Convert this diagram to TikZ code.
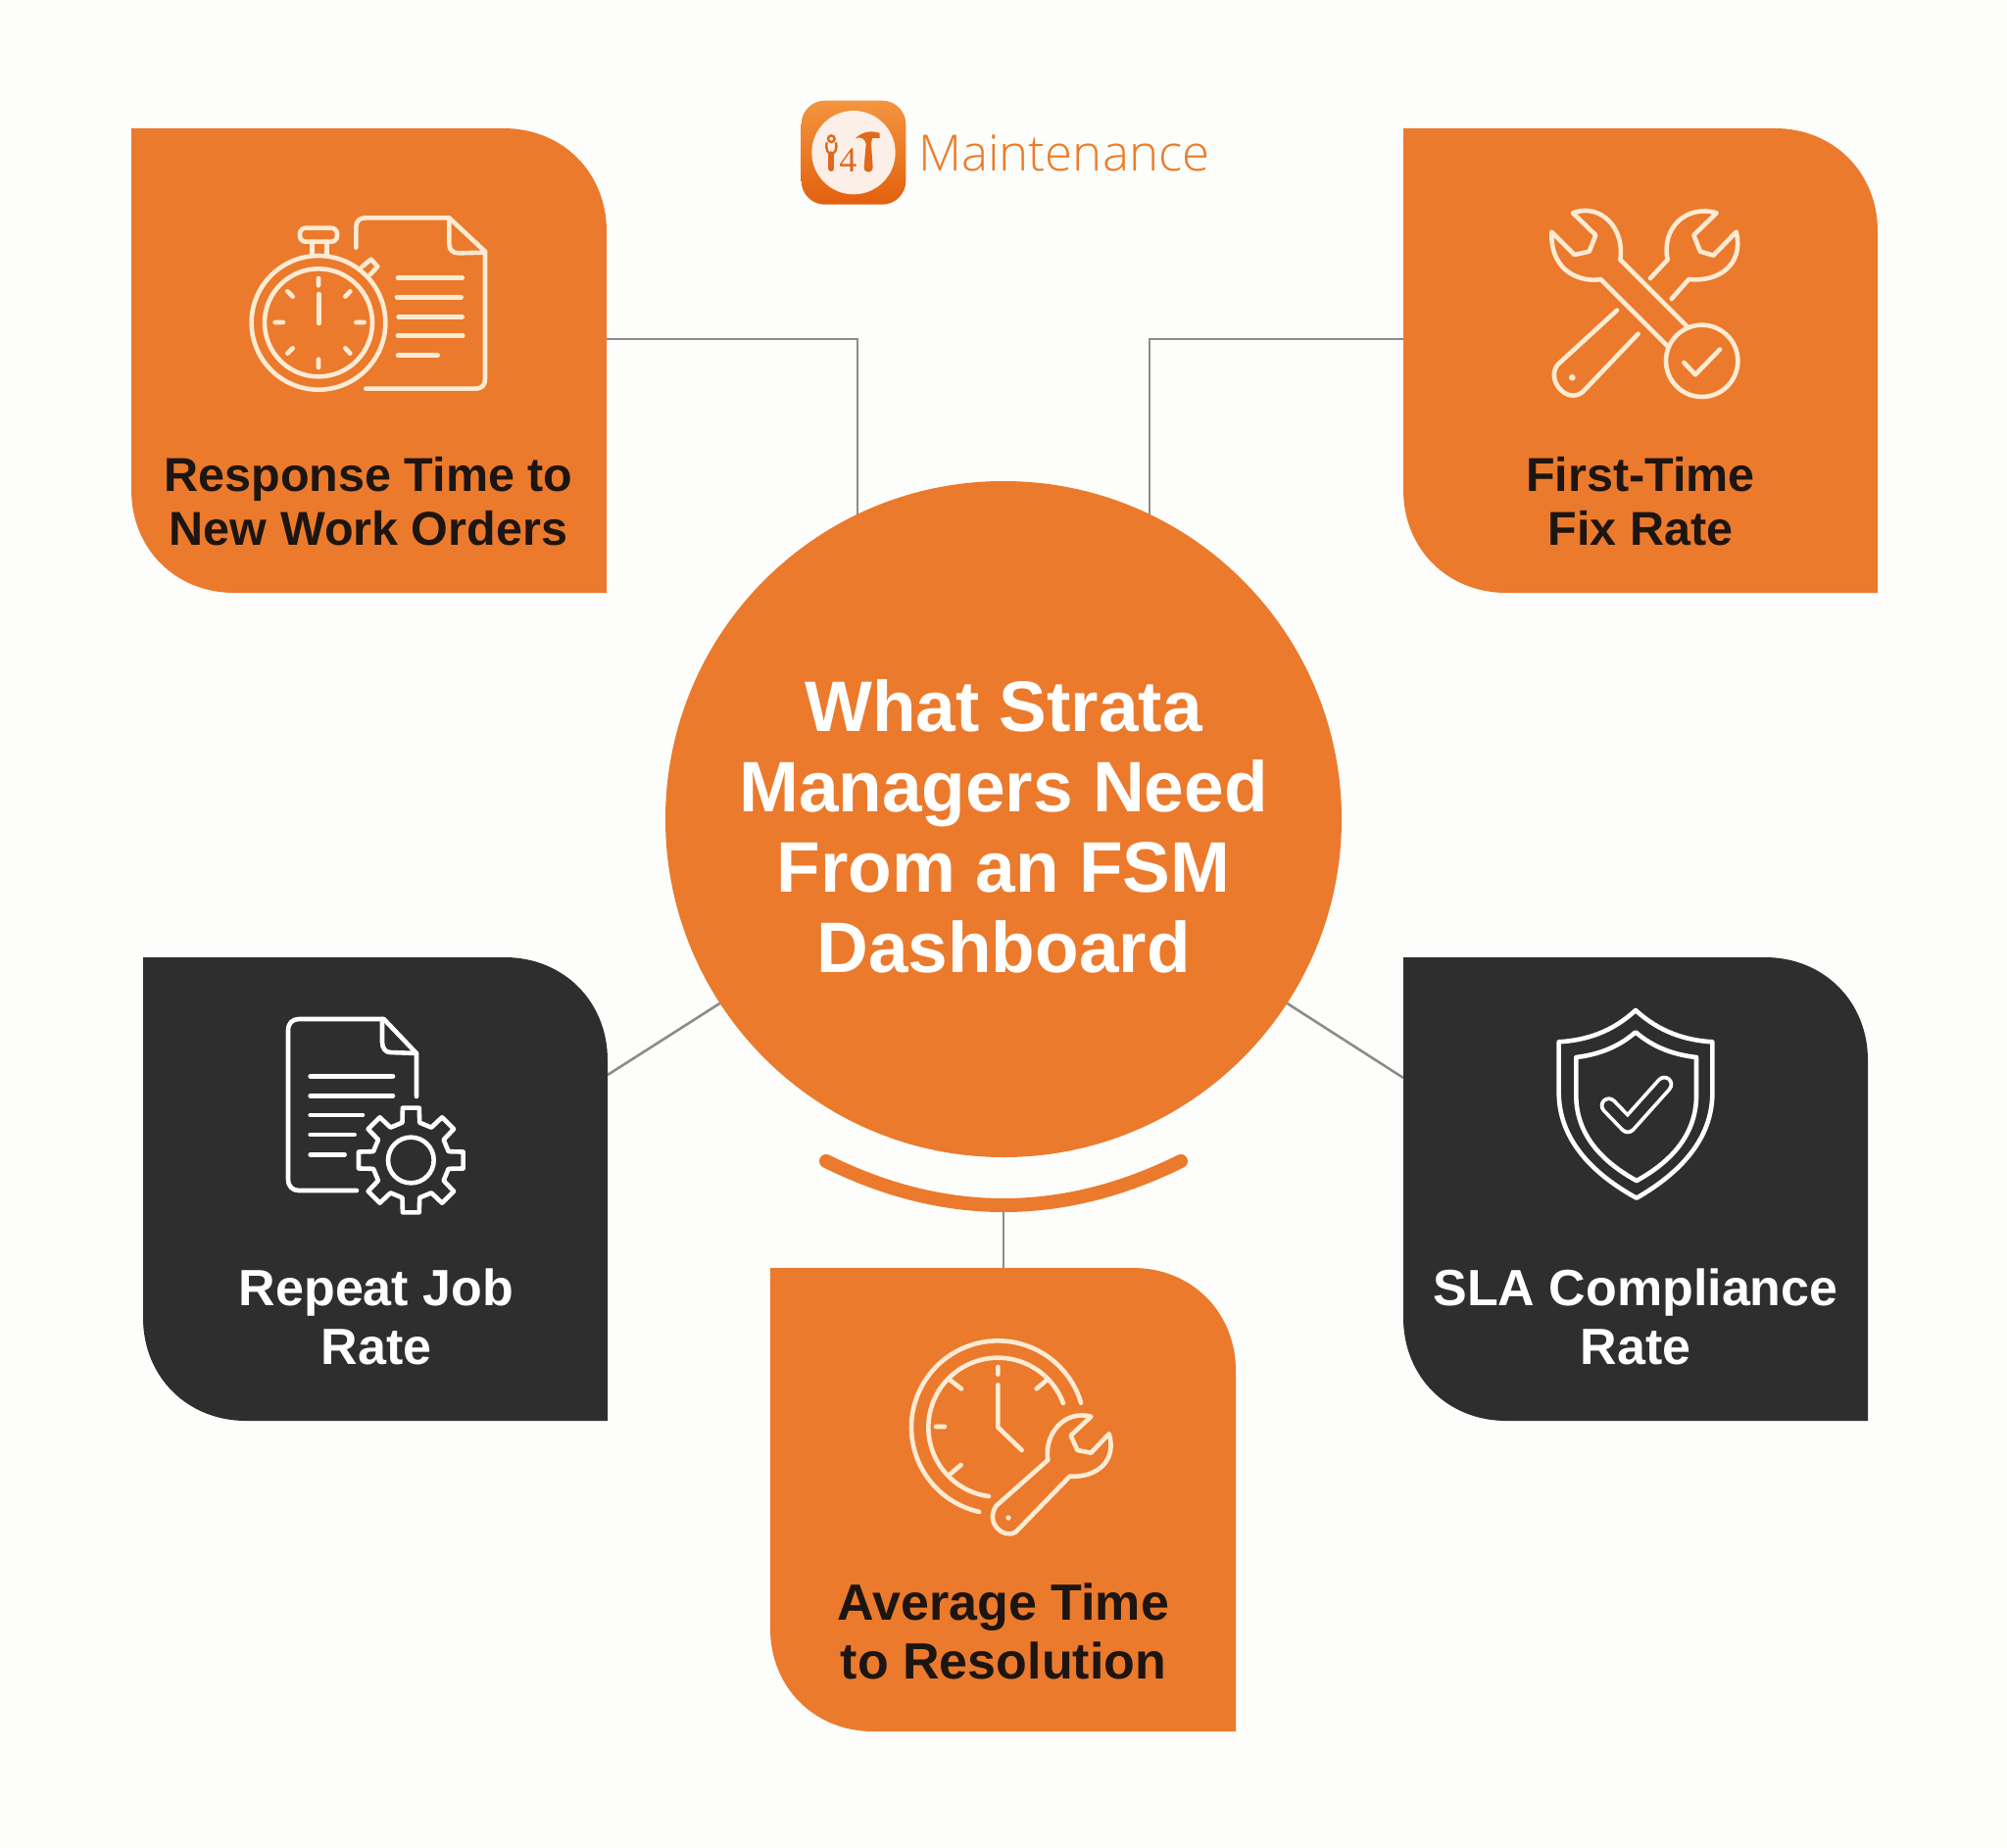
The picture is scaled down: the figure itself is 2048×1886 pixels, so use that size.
\documentclass[tikz,border=0pt]{standalone}
\usepackage{fontspec}
\newfontfamily\cardf[UprightFont=* Bold]{Liberation Sans}
\newfontfamily\lightf[UprightFont=* Light]{Open Sans}
\newfontfamily\logof{Liberation Serif}
\definecolor{bgc}{HTML}{FDFDFB}
\definecolor{orangec}{HTML}{EB7A2D}
\definecolor{darkc}{HTML}{2E2E2E}
\definecolor{inkc}{HTML}{1C1511}
\definecolor{creamc}{HTML}{FDEBD3}
\definecolor{linec}{HTML}{8C8C8C}
\definecolor{logoc}{HTML}{EE7B25}
\definecolor{logotop}{HTML}{F4953F}
\definecolor{logobot}{HTML}{E2600F}
\definecolor{logodisc}{HTML}{FCEFE8}
\definecolor{glyphc}{HTML}{E0691B}
\tikzset{
  cardframe/.style={inner sep=0pt,outer sep=0pt,anchor=north west,minimum width=#1},
  cardlabel/.style={font=\cardf\fontsize{48.5}{55}\selectfont,align=center,inner sep=0pt},
  cardlabelwide/.style={font=\cardf\fontsize{52}{60}\selectfont,align=center,inner sep=0pt},
  link/.style={draw=linec,line width=2.6pt},
  iconline/.style={line width=4.6pt,line cap=round,line join=round},
  zoomed/.style={shift={(#1)},x=0.33333pt,y=-0.33333pt},
}
\newcommand{\cardfill}[2]{%
  \fill[#2] (#1.north west) -- ([xshift=-105pt]#1.north east)
    .. controls ([xshift=-45pt]#1.north east) and ([yshift=-45pt]#1.north east) .. ([yshift=-105pt]#1.north east)
    -- (#1.south east) -- ([xshift=105pt]#1.south west)
    .. controls ([xshift=45pt]#1.south west) and ([yshift=45pt]#1.south west) .. ([yshift=105pt]#1.south west)
    -- cycle;}
\begin{document}
\begin{tikzpicture}[x=1pt,y=-1pt]
\useasboundingbox (0,0) rectangle (2048,1886);
\fill[bgc] (0,0) rectangle (2048,1886);

% frames
\node[cardframe=485pt,minimum height=474pt] (tl) at (134,131) {};
\node[cardframe=484pt,minimum height=474pt] (tr) at (1432,131) {};
\node[cardframe=474pt,minimum height=473pt] (bl) at (146,977) {};
\node[cardframe=474pt,minimum height=473pt] (br) at (1432,977) {};
\node[cardframe=475pt,minimum height=473pt] (bot) at (786,1294) {};
\coordinate (tlend) at (875,527);
\coordinate (trend) at (1173,527);
\coordinate (arcl) at (843,1185);
\coordinate (arcr) at (1205,1185);
\coordinate (arcbase) at (1024,1232);

% connectors
\draw[link] ([yshift=22pt]tl.east) -| (tlend);
\draw[link] ([yshift=22pt]tr.west) -| (trend);
\node[circle,inner sep=0pt,outer sep=0pt,minimum size=690pt,fill=orangec] (hub) at (1024,836) {};
\draw[link] ([yshift=116.5pt]bl.east) -- (hub.213.2);
\draw[link] ([yshift=113.5pt]br.west) -- (hub.-33.2);
\draw[link] (arcbase) -- (arcbase |- bot.north);

% cards
\cardfill{tl}{orangec}
\cardfill{tr}{orangec}
\cardfill{bl}{darkc}
\cardfill{br}{darkc}
\cardfill{bot}{orangec}
\draw[orangec,line width=14pt,line cap=round] (arcl) .. controls (963.7,1245) and (1084.3,1245) .. (arcr);

% hub text
\node[font=\cardf\fontsize{73}{82}\selectfont,align=center,text=white,inner sep=0pt] (hubtext) at (1024,843)
  {What Strata\\Managers Need\\From an FSM\\Dashboard};

% card texts
\node[cardlabel,text=inkc] (tltext) at (376,512) {Response Time to\\New Work Orders};
\node[cardlabel,text=inkc] (trtext) at (1674,512) {First-Time\\Fix Rate};
\node[cardlabelwide,text=white] (bltext) at (384,1344) {Repeat Job\\Rate};
\node[cardlabelwide,text=white] (brtext) at (1669,1344) {SLA Compliance\\Rate};
\node[cardlabelwide,text=inkc] (bottext) at (1024,1665) {Average Time\\to Resolution};

% logo
\shade[top color=logotop,bottom color=logobot,rounded corners=24pt] (817.7,102.7) rectangle (924.3,208.7);
\begin{scope}[zoomed={780,80}]
  \fill[logodisc] (273,227) circle[radius=128];
  \draw[glyphc,line width=2.4pt] (205,185) circle[radius=10];
  \draw[glyphc,line width=2.4pt] (191,196) .. controls (187,222) and (195,228) .. (205,232) .. controls (215,228) and (223,222) .. (219,196);
  \draw[glyphc,line width=6pt,line cap=round] (205,232) -- (205,276);
  \fill[glyphc] (278,184) .. controls (295,168) and (310,163) .. (330,163) -- (353,167) -- (353,183) -- (330,183) -- (327,200)
     -- (332,272) .. controls (332,292) and (305,292) .. (305,272) -- (311,200) .. controls (309,186) and (295,176) .. (278,184) -- cycle;
  \node[text=glyphc,font=\logof\fontsize{36}{36}\selectfont,inner sep=0pt] (four) at (256,252) {4};
\end{scope}
\node[anchor=base west,inner sep=0pt,text=logoc,font=\lightf\fontsize{51}{51}\selectfont] (logotext) at (937,175) {Maintenance};

% stopwatch + document
\begin{scope}[zoomed={220,190},creamc,iconline]
  \draw (315,418) circle[radius=205];
  \draw (315,418) circle[radius=165];
  \draw[rounded corners=6pt] (258,128) rectangle (372,170);
  \draw (295,170) -- (295,212) (340,170) -- (340,212);
  \draw (448,247) -- (476,224) -- (496,246) -- (474,270);
  \draw (315,282) -- (315,304) (315,530) -- (315,555) (182,417) -- (207,417) (430,417) -- (455,417)
        (220,322) -- (236,338) (412,322) -- (397,338) (220,512) -- (236,496) (412,512) -- (397,496);
  \draw (316,330) -- (316,420);
  \draw (430,188) -- (430,125) .. controls (430,105) and (442,97) .. (460,97) -- (715,97) -- (825,200) -- (825,590)
        .. controls (825,610) and (815,620) .. (795,620) -- (460,620);
  \draw (715,97) -- (715,175) .. controls (715,195) and (725,205) .. (745,205) -- (825,203);
  \draw (558,281) -- (755,281) (555,340) -- (752,340) (560,400) -- (755,400) (558,458) -- (757,458) (558,518) -- (680,518);
\end{scope}

% crossed wrenches
\begin{scope}[zoomed={1540,190},creamc,iconline]
  \draw (485,490) -- (280,285) .. controls (230,295) and (125,270) .. (130,140) -- (200,210) -- (245,200) -- (265,150) -- (195,82)
        .. controls (280,50) and (355,130) .. (340,225) -- (545,430);
  \draw (590,535) circle[radius=110];
  \draw (535,540) -- (570,577) -- (645,500);
  \draw (432,282) -- (485,225) .. controls (465,130) and (540,55) .. (635,82) -- (565,150) -- (585,200) -- (625,212) -- (695,140)
        .. controls (720,240) and (640,295) .. (550,285) -- (497,345);
  \draw (330,380) -- (150,545) .. controls (110,590) and (175,670) .. (225,630) -- (395,452);
  \fill (193,586) circle[radius=10];
\end{scope}

% document + gear
\begin{scope}[zoomed={270,1020},white,iconline]
  \draw (465,297) -- (465,165) -- (365,60) -- (105,60) .. controls (85,60) and (72,73) .. (72,95) -- (72,550)
        .. controls (72,572) and (85,585) .. (105,585) -- (282,585);
  \draw (360,60) -- (360,130) .. controls (360,150) and (370,162) .. (385,162) -- (465,165);
  \draw (140,235) -- (393,235) (140,295) -- (393,295) (140,354) -- (300,354) (140,414) -- (275,414) (140,475) -- (245,475);
  \begin{scope}[shift={(448,492)}]
    \draw (70,0) arc[start angle=0,end angle=360,radius=70];
    \draw (-13:118) \foreach \a in {0,45,...,315}{ -- (\a-13:118) -- (\a-9:162) -- (\a+9:162) -- (\a+13:118)} -- cycle;
  \end{scope}
\end{scope}

% shield
\begin{scope}[zoomed={1560,1020},white,iconline]
  \draw (327,33) .. controls (400,100) and (480,125) .. (562,130) -- (562,290) .. controls (560,450) and (430,550) .. (330,608)
        .. controls (225,550) and (95,450) .. (92,290) -- (92,130) .. controls (175,125) and (255,100) .. (327,33) -- cycle;
  \draw (327,100) .. controls (385,150) and (450,170) .. (513,177) -- (513,300) .. controls (510,420) and (430,500) .. (330,555)
        .. controls (230,500) and (148,420) .. (145,300) -- (145,177) .. controls (205,170) and (270,150) .. (327,100) -- cycle;
  \draw[line width=18pt] (245,325) -- (303,385) -- (415,260);
  \draw[darkc,line width=10.5pt] (245,325) -- (303,385) -- (415,260);
\end{scope}

% clock + wrench
\begin{scope}[zoomed={910,1350},creamc,iconline]
  \draw plot[domain=-16.4:-257.4,samples=90] ({325+265*cos(\x)},{320+265*sin(\x)});
  \draw plot[domain=-20.4:-262.4,samples=90] ({325+213*cos(\x)},{320+213*sin(\x)});
  \draw (325,135) -- (325,158) (178,175) -- (213,202) (475,175) -- (443,202) (135,318) -- (162,318) (180,462) -- (212,435);
  \draw (325,190) -- (325,320) -- (398,390);
  \draw (320,560) -- (478,420) .. controls (465,340) and (530,265) .. (610,287) -- (548,345) -- (568,390) -- (610,398) -- (665,340)
        .. controls (690,420) and (630,475) .. (545,470) -- (380,640) .. controls (340,665) and (285,610) .. (320,560) -- cycle;
  \fill (357,597) circle[radius=8];
\end{scope}
\end{tikzpicture}
\end{document}
